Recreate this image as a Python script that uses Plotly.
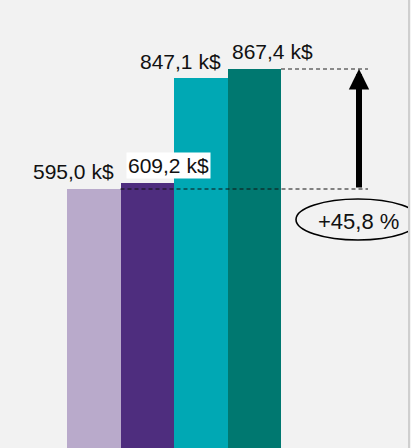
import plotly.graph_objects as go

# Values (k$) for the four bars, in display order
values = [595.0, 609.2, 847.1, 867.4]
colors = ["#b9aacb", "#4e2d7e", "#00a8b4", "#007870"]
# Horizontal / vertical offsets (px) of each value label relative to its bar top
label_dx = [-20.5, 21.5, -20.5, 18]
label_dy = [17, 17.5, 16, 17]
label_bg = [None, "white", None, None]

W, H = 411, 448
MR = 2
PW = W - MR                      # plot-area width in px

# Axis ranges: bars are one unit wide, bar 0 starts 67 px from the left
UNIT = 53.5
x_lo = -0.5 - 67 / UNIT
x_hi = x_lo + PW / UNIT
y_hi = 1024.0
y_lo = 7.0
PXY = H / (y_hi - y_lo)


def xd(px):
    """Pixel column -> data x."""
    return x_lo + px / UNIT


def yd(py):
    """Pixel row -> data y."""
    return y_hi - py / PXY


def fmt(v):
    return f"{v:.1f}".replace(".", ",")


xs = list(range(len(values)))
base, top = values[0], values[-1]
growth = (top / base - 1) * 100

fig = go.Figure(
    go.Bar(
        x=xs,
        y=values,
        width=1,
        marker=dict(color=colors, line=dict(width=0)),
        hoverinfo="skip",
    )
)

FONT = dict(family="Liberation Sans, Arial, sans-serif", size=21, color="#111111")

annotations = []
for x, v, dx, dy, bg in zip(xs, values, label_dx, label_dy, label_bg):
    annotations.append(dict(
        x=x, y=v, xref="x", yref="y",
        text=f"{fmt(v)} k$", showarrow=False,
        xanchor="center", yanchor="middle",
        xshift=dx, yshift=dy, font=FONT,
        bgcolor=bg if bg else "rgba(0,0,0,0)", borderpad=1,
    ))

# Growth arrow from the first bar's level to the last bar's level
arrow_x = xd(359)
annotations.append(dict(
    x=arrow_x, y=top, ax=arrow_x, ay=base,
    xref="x", yref="y", axref="x", ayref="y",
    text="", showarrow=True, arrowhead=2, arrowsize=0.68,
    arrowwidth=6, arrowcolor="black", standoff=0, startstandoff=0,
))
# Growth percentage inside the ellipse
annotations.append(dict(
    x=xd(358), y=yd(221), xref="x", yref="y",
    text=f"+{fmt(growth)} %", showarrow=False,
    xanchor="center", yanchor="middle",
    font=dict(FONT, size=22),
))

dash_end = xd(368)
shapes = [
    dict(type="line", xref="x", yref="y", x0=0.5, x1=dash_end, y0=base, y1=base,
         line=dict(color="#111111", width=1.2, dash="4px,3px")),
    dict(type="line", xref="x", yref="y", x0=len(values) - 0.5, x1=dash_end, y0=top, y1=top,
         line=dict(color="#222222", width=1.2, dash="4px,3px")),
    dict(type="circle", xref="x", yref="y", x0=xd(296), x1=xd(420), y0=yd(240), y1=yd(199),
         line=dict(color="black", width=1.6), fillcolor="rgba(0,0,0,0)"),
    dict(type="line", xref="paper", yref="paper", x0=1, x1=1, y0=0, y1=1,
         line=dict(color="#cfcfcf", width=2)),
]

fig.update_layout(
    width=W, height=H,
    margin=dict(l=0, r=MR, t=0, b=0, pad=0),
    paper_bgcolor="#f4f4f4",
    plot_bgcolor="#f2f2f2",
    bargap=0,
    showlegend=False,
    xaxis=dict(range=[x_lo, x_hi], visible=False, fixedrange=True),
    yaxis=dict(range=[y_lo, y_hi], visible=False, fixedrange=True),
    annotations=annotations,
    shapes=shapes,
)

fig.write_html("out.html", config={"displayModeBar": False})
